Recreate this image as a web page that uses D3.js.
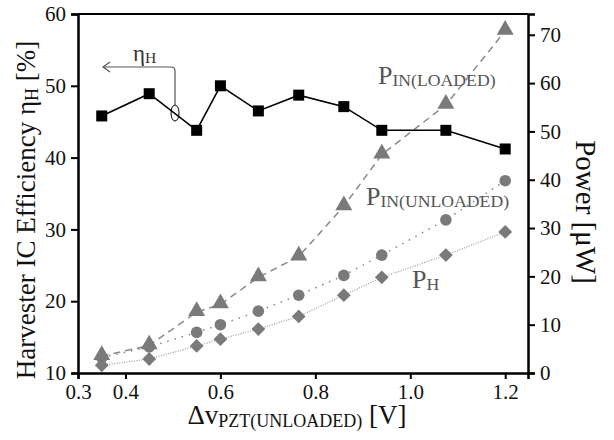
<!DOCTYPE html>
<html>
<head>
<meta charset="utf-8">
<script src="https://cdn.jsdelivr.net/npm/d3@7"></script>
<style>
  body { margin: 0; background: #fff; }
  svg text { font-family: "Liberation Serif", "DejaVu Serif", serif; }
</style>
</head>
<body>
<div id="main"></div>
<script>
const w = 614, h = 440;
const margin = {top: 14, right: 86, bottom: 67, left: 78};

// data
const dv = [0.35, 0.45, 0.55, 0.6, 0.68, 0.765, 0.86, 0.94, 1.075, 1.2];
const etaH = [45.8, 48.9, 43.8, 50.0, 46.5, 48.7, 47.1, 43.8, 43.8, 41.2];
const pInLoaded = [3.5, 5.7, 12.6, 14.2, 19.8, 24.1, 34.5, 45.2, 55.5, 70.8];
const pInUnloaded = [3.2, 5.4, 8.4, 10.0, 12.8, 16.1, 20.2, 24.4, 31.7, 39.8];
const pH = [1.6, 2.9, 5.6, 7.0, 9.1, 11.7, 16.1, 19.8, 24.4, 29.2];
const xTicks = [0.3, 0.4, 0.6, 0.8, 1.0, 1.2];
const leftTicks = [10, 20, 30, 40, 50, 60];
const rightTicks = [0, 10, 20, 30, 40, 50, 60, 70];

const gray = '#7a7a7a';

const svg = d3.select('#main')
  .append('svg')
  .attr('width', w)
  .attr('height', h);

const x = d3.scaleLinear().domain([0.3, 1.248]).range([margin.left, w - margin.right]);
const yL = d3.scaleLinear().domain([10, 60]).range([h - margin.bottom, margin.top]);
const yR = d3.scaleLinear().domain([0, 74.3]).range([h - margin.bottom, margin.top]);

// frame top line
svg.append('line')
  .attr('x1', margin.left).attr('x2', w - margin.right)
  .attr('y1', margin.top).attr('y2', margin.top)
  .attr('stroke', '#000').attr('stroke-width', 2);

const styleAxis = g => {
  g.select('.domain').attr('stroke-width', 2.5);
  g.selectAll('.tick line').attr('stroke-width', 2);
  g.selectAll('.tick text').attr('font-size', 21).attr('fill', '#111');
};

svg.append('g')
  .attr('transform', 'translate(0,' + (h - margin.bottom) + ')')
  .call(d3.axisBottom(x).tickValues(xTicks).tickFormat(d3.format('.1f')).tickSizeOuter(0).tickSize(6).tickPadding(5))
  .call(styleAxis);

svg.append('g')
  .attr('transform', 'translate(' + margin.left + ',0)')
  .call(d3.axisLeft(yL).tickValues(leftTicks).tickSizeOuter(0).tickSize(7).tickPadding(5))
  .call(styleAxis);

svg.append('g')
  .attr('transform', 'translate(' + (w - margin.right) + ',0)')
  .call(d3.axisRight(yR).tickValues(rightTicks).tickSizeOuter(0).tickSize(7).tickPadding(5))
  .call(styleAxis);

const pts = (ys, sc) => dv.map((d, i) => [x(d), sc(ys[i])]);
const line = d3.line();

// power curves
svg.append('path').attr('d', line(pts(pInLoaded, yR)))
  .attr('fill', 'none').attr('stroke', '#8a8a8a').attr('stroke-width', 1.5)
  .attr('stroke-dasharray', '7,5');
svg.append('path').attr('d', line(pts(pInUnloaded, yR)))
  .attr('fill', 'none').attr('stroke', '#8a8a8a').attr('stroke-width', 1.6)
  .attr('stroke-dasharray', '1.5,6');
svg.append('path').attr('d', line(pts(pH, yR)))
  .attr('fill', 'none').attr('stroke', '#999').attr('stroke-width', 1.2)
  .attr('stroke-dasharray', '1,1.5');

// efficiency line
svg.append('path').attr('d', line(pts(etaH, yL)))
  .attr('fill', 'none').attr('stroke', '#000').attr('stroke-width', 1.6);

const sym = (type, size) => d3.symbol().type(type).size(size)();

svg.selectAll('.tri').data(pts(pInLoaded, yR)).enter().append('path')
  .attr('transform', d => 'translate(' + d[0] + ',' + (d[1] - 1) + ')')
  .attr('d', sym(d3.symbolTriangle, 125)).attr('fill', gray);
svg.selectAll('.cir').data(pts(pInUnloaded, yR)).enter().append('circle')
  .attr('cx', d => d[0]).attr('cy', d => d[1]).attr('r', 5.8).attr('fill', gray);
svg.selectAll('.dia').data(pts(pH, yR)).enter().append('path')
  .attr('transform', d => 'translate(' + d[0] + ',' + d[1] + ') rotate(45)')
  .attr('d', sym(d3.symbolSquare, 95)).attr('fill', gray);
svg.selectAll('.sq').data(pts(etaH, yL)).enter().append('rect')
  .attr('x', d => d[0] - 5.5).attr('y', d => d[1] - 5.5)
  .attr('width', 11).attr('height', 11).attr('fill', '#000');

// eta annotation: ellipse on the line, bracket arrow pointing left
const ex = 175, ey = 113;
svg.append('ellipse').attr('cx', ex).attr('cy', ey).attr('rx', 4).attr('ry', 8)
  .attr('fill', 'none').attr('stroke', '#000').attr('stroke-width', 1);
svg.append('path')
  .attr('d', 'M' + ex + ',' + (ey - 8) + ' V71 Q' + ex + ',67 ' + (ex - 4) + ',67 H103')
  .attr('fill', 'none').attr('stroke', '#555').attr('stroke-width', 1.2);
svg.append('path').attr('d', 'M110,62 L103,67 L110,72')
  .attr('fill', 'none').attr('stroke', '#555').attr('stroke-width', 1.2);

const label = (tx, ty, main, sub, color, size) => {
  const t = svg.append('text').attr('x', tx).attr('y', ty).attr('fill', color).attr('font-size', size);
  t.append('tspan').text(main);
  t.append('tspan').attr('font-size', size * 0.68).attr('dy', 2).text(sub);
  return t;
};
label(133, 61, 'η', 'H', '#333', 23);
label(378, 84, 'P', 'IN(LOADED)', '#555', 26);
label(366, 205, 'P', 'IN(UNLOADED)', '#555', 26);
label(412, 288, 'P', 'H', '#555', 26);

// axis titles
const yt = svg.append('text')
  .attr('transform', 'translate(35,210) rotate(-90)')
  .attr('text-anchor', 'middle').attr('font-size', 27).attr('fill', '#111');
yt.append('tspan').text('Harvester IC Efficiency η');
yt.append('tspan').attr('font-size', 18).attr('dy', 3).text('H');
yt.append('tspan').attr('dy', -3).text(' [%]');

svg.append('text')
  .attr('transform', 'translate(576,212) rotate(90)')
  .attr('text-anchor', 'middle').attr('font-size', 29).attr('fill', '#111')
  .text('Power [μW]');

const xt = svg.append('text')
  .attr('x', 297).attr('y', 424)
  .attr('text-anchor', 'middle').attr('font-size', 27).attr('fill', '#111');
xt.append('tspan').text('Δv');
xt.append('tspan').attr('font-size', 18).attr('dy', 3).text('PZT(UNLOADED)');
xt.append('tspan').attr('dy', -3).text(' [V]');
</script>
</body>
</html>
